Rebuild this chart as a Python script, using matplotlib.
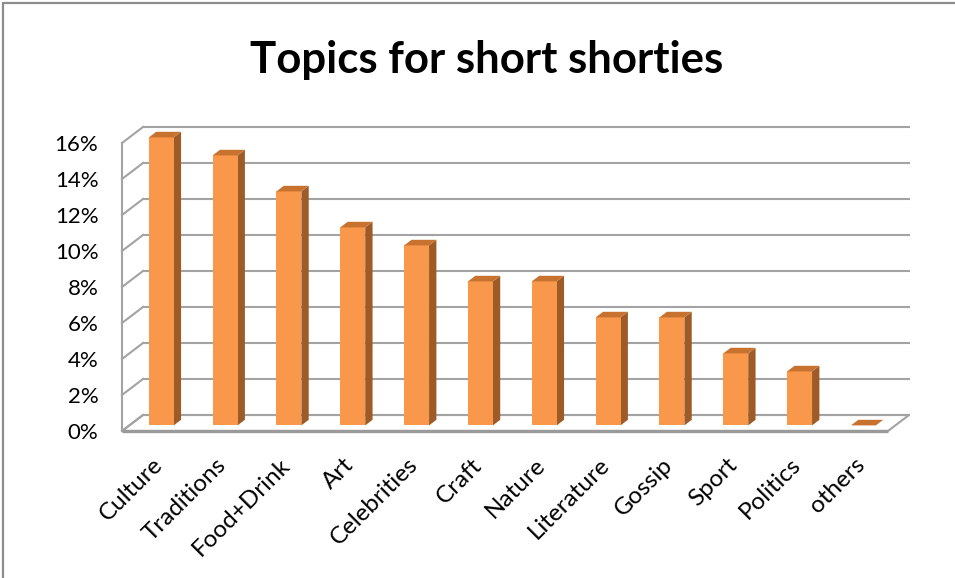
import matplotlib
matplotlib.use("Agg")
import matplotlib.pyplot as plt
from matplotlib.patches import Polygon, Rectangle
import numpy as np

categories = ["Culture", "Traditions", "Food+Drink", "Art", "Celebrities", "Craft",
              "Nature", "Literature", "Gossip", "Sport", "Politics", "others"]
shares = [16, 15, 13, 11, 10, 8, 8, 6, 6, 4, 3, 0]
ytick_values = [0, 2, 4, 6, 8, 10, 12, 14, 16]
ytick_labels = [f"{v}%" for v in ytick_values]
title = "Topics for short shorties"

plt.rcParams["font.family"] = ["Lato", "DejaVu Sans"]

W, H = 955, 578
fig = plt.figure(figsize=(W / 100, H / 100), dpi=100)

# Chart-area border (only the left and top edges fall inside the canvas)
fig.patches.append(Rectangle((3 / W, -0.1), 1.2, 1 - 3 / H + 0.1, transform=fig.transFigure,
                             fill=False, edgecolor="#8c8c8c", lw=1.6))

# Axes spans the front plane of the 3D box
x0, x1, ybot, ytop = 122, 888, 431, 143
ax = fig.add_axes([x0 / W, 1 - ybot / H, (x1 - x0) / W, (ybot - ytop) / H])
n = len(categories)
ymax = 16
ax.set_xlim(0, n)
ax.set_ylim(0, ymax)
for s in ax.spines.values():
    s.set_visible(False)

# Oblique depth vector (full box depth), expressed in data units
px_per_x = (x1 - x0) / n
px_per_y = (ybot - ytop) / ymax
DX = 21 / px_per_x
DY = 16 / px_per_y


def P(x, y, d):
    return (x + d * DX, y + d * DY)


grid_c = "#a3a3a3"
glw = 1.5

# Floor
floor = Polygon([P(0, 0, 0), P(n, 0, 0), P(n, 0, 1), P(0, 0, 1)], closed=True,
                facecolor="white", edgecolor=grid_c, lw=glw, clip_on=False, zorder=1)
ax.add_patch(floor)
ax.plot([0, n], [0, 0], color="#9a9a9a", lw=2.4, clip_on=False, zorder=1.5,
        solid_capstyle="butt")

# Back-wall gridlines and left-wall diagonals
for v in ytick_values:
    bx0, by = P(0, v, 1)
    bx1, _ = P(n, v, 1)
    ax.plot([bx0, bx1], [by, by], color=grid_c, lw=glw, clip_on=False, zorder=1)
    fx, fy = P(0, v, 0)
    ax.plot([fx, bx0], [fy, by], color=grid_c, lw=glw, clip_on=False, zorder=1)
ax.plot([0, 0], [0, ymax], color=grid_c, lw=glw, clip_on=False, zorder=1)

# 3D columns
face_c = "#f9984a"
side_c = "#9e5b27"
top_c = "#c8722f"
bw = 0.39
d0, d1 = 0.35, 0.70
for i, v in enumerate(shares):
    xl = i + 0.5 - bw / 2
    xr = i + 0.5 + bw / 2
    if v > 0:
        front = [P(xl, 0, d0), P(xr, 0, d0), P(xr, v, d0), P(xl, v, d0)]
        side = [P(xr, 0, d0), P(xr, 0, d1), P(xr, v, d1), P(xr, v, d0)]
        ax.add_patch(Polygon(side, closed=True, facecolor=side_c, edgecolor="none",
                             clip_on=False, zorder=3))
        ax.add_patch(Polygon(front, closed=True, facecolor=face_c, edgecolor="none",
                             clip_on=False, zorder=4))
    top = [P(xl, v, d0), P(xr, v, d0), P(xr, v, d1), P(xl, v, d1)]
    ax.add_patch(Polygon(top, closed=True, facecolor=top_c, edgecolor="none",
                         clip_on=False, zorder=4))

# Axis labels
ax.set_yticks(ytick_values)
ax.set_yticklabels(ytick_labels, fontsize=16)
ax.tick_params(axis="y", length=0, pad=17)
ax.set_xticks(np.arange(n) + 0.58)
ax.set_xticklabels(categories, fontsize=17.5, rotation=45, ha="right",
                   rotation_mode="anchor", va="center")
ax.tick_params(axis="x", length=0, pad=22)

fig.text(487 / W, 1 - 60 / H, title, ha="center", va="center",
         fontsize=31.5, fontweight="bold")

fig.savefig("out.png", dpi=100, facecolor="white")
